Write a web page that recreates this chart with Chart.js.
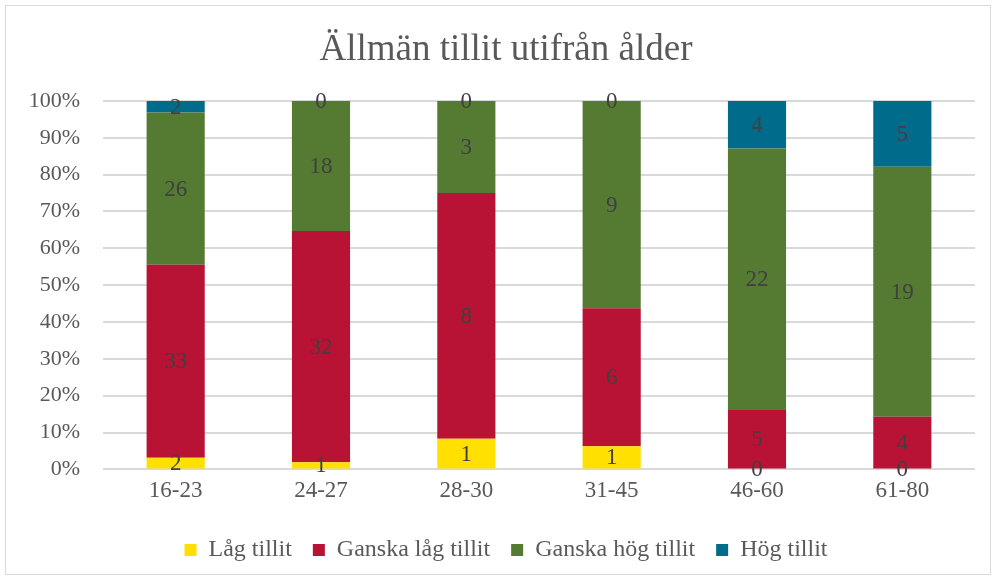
<!DOCTYPE html>
<html>
<head>
<meta charset="utf-8">
<script src="https://cdn.jsdelivr.net/npm/chart.js@4"></script>
<style>
  html, body { margin: 0; padding: 0; background: #fff; }
  #wrap { width: 996px; height: 580px; }
</style>
</head>
<body>
<div id="wrap"><canvas id="myChart" width="996" height="580"></canvas></div>
<script>
const ageGroups = ["16-23", "24-27", "28-30", "31-45", "46-60", "61-80"];
const lagTillit = [2, 1, 1, 1, 0, 0];
const ganskaLagTillit = [33, 32, 8, 6, 5, 4];
const ganskaHogTillit = [26, 18, 3, 9, 22, 19];
const hogTillit = [2, 0, 0, 0, 4, 5];
const seriesNames = ["Låg tillit", "Ganska låg tillit", "Ganska hög tillit", "Hög tillit"];
const seriesColors = ["#FFE000", "#B81234", "#557A32", "#006B8A"];

const counts = [lagTillit, ganskaLagTillit, ganskaHogTillit, hogTillit];
const totals = ageGroups.map((_, i) => counts.reduce((s, arr) => s + arr[i], 0));

const FONT = "'Liberation Serif', 'Times New Roman', serif";
const ctx = document.getElementById("myChart").getContext("2d");

// white background + thin outer frame
const frame = {
  id: "frame",
  beforeDraw(chart) {
    const c = chart.ctx;
    c.save();
    c.fillStyle = "#fff";
    c.fillRect(0, 0, chart.width, chart.height);
    c.strokeStyle = "#d9d9d9";
    c.lineWidth = 1;
    c.strokeRect(5.5, 5.5, chart.width - 11, chart.height - 11);
    c.restore();
  },
};

// count labels in the middle of each segment
const segLabels = {
  id: "segLabels",
  afterDatasetsDraw(chart) {
    const c = chart.ctx;
    c.save();
    c.font = "23px " + FONT;
    c.fillStyle = "#404040";
    c.textAlign = "center";
    c.textBaseline = "middle";
    chart.data.datasets.forEach((ds, di) => {
      const meta = chart.getDatasetMeta(di);
      meta.data.forEach((bar, i) => {
        const y = (bar.y + bar.base) / 2;
        c.fillText(String(counts[di][i]), bar.x, y + 1);
      });
    });
    c.restore();
  },
};

const data = {
  labels: ageGroups,
  datasets: counts.map((arr, k) => ({
    label: seriesNames[k],
    data: arr.map((v, i) => (v / totals[i]) * 100),
    backgroundColor: seriesColors[k],
    borderWidth: 0,
    categoryPercentage: 1,
    barPercentage: 0.4,
  })),
};

const config = {
  type: "bar",
  data: data,
  options: {
    responsive: false,
    animation: false,
    layout: { padding: { top: 4, left: 16, right: 0, bottom: 8 } },
    plugins: {
      title: {
        display: true,
        text: "Ällmän tillit utifrån ålder",
        color: "#595959",
        font: { family: FONT, size: 37, weight: "normal" },
        padding: { top: 24, bottom: 28.5 },
      },
      legend: {
        position: "bottom",
        labels: {
          color: "#595959",
          font: { family: FONT, size: 24 },
          boxWidth: 12,
          boxHeight: 12,
          padding: 21,
        },
      },
      tooltip: { enabled: false },
    },
    scales: {
      x: {
        stacked: true,
        afterFit(scale) { scale.height = 47.6; },
        grid: { display: false, drawTicks: false },
        border: { display: false },
        ticks: { color: "#595959", font: { family: FONT, size: 23 }, padding: 8 },
      },
      y: {
        stacked: true,
        min: 0,
        max: 100,
        afterFit(scale) { scale.width = 87; },
        grid: { color: "#d9d9d9", lineWidth: 2, drawTicks: false },
        border: { display: false },
        ticks: {
          stepSize: 10,
          color: "#595959",
          font: { family: FONT, size: 22 },
          padding: 23,
          callback: (v) => v + "%",
        },
      },
      // empty right-hand spacer so the plot ends where the original does
      spacer: {
        type: "linear",
        position: "right",
        afterFit(scale) { scale.width = 21; },
        grid: { display: false },
        border: { display: false },
        ticks: { display: false },
      },
    },
  },
  plugins: [frame, segLabels],
};

let myChart = new Chart(ctx, config);
</script>
</body>
</html>
